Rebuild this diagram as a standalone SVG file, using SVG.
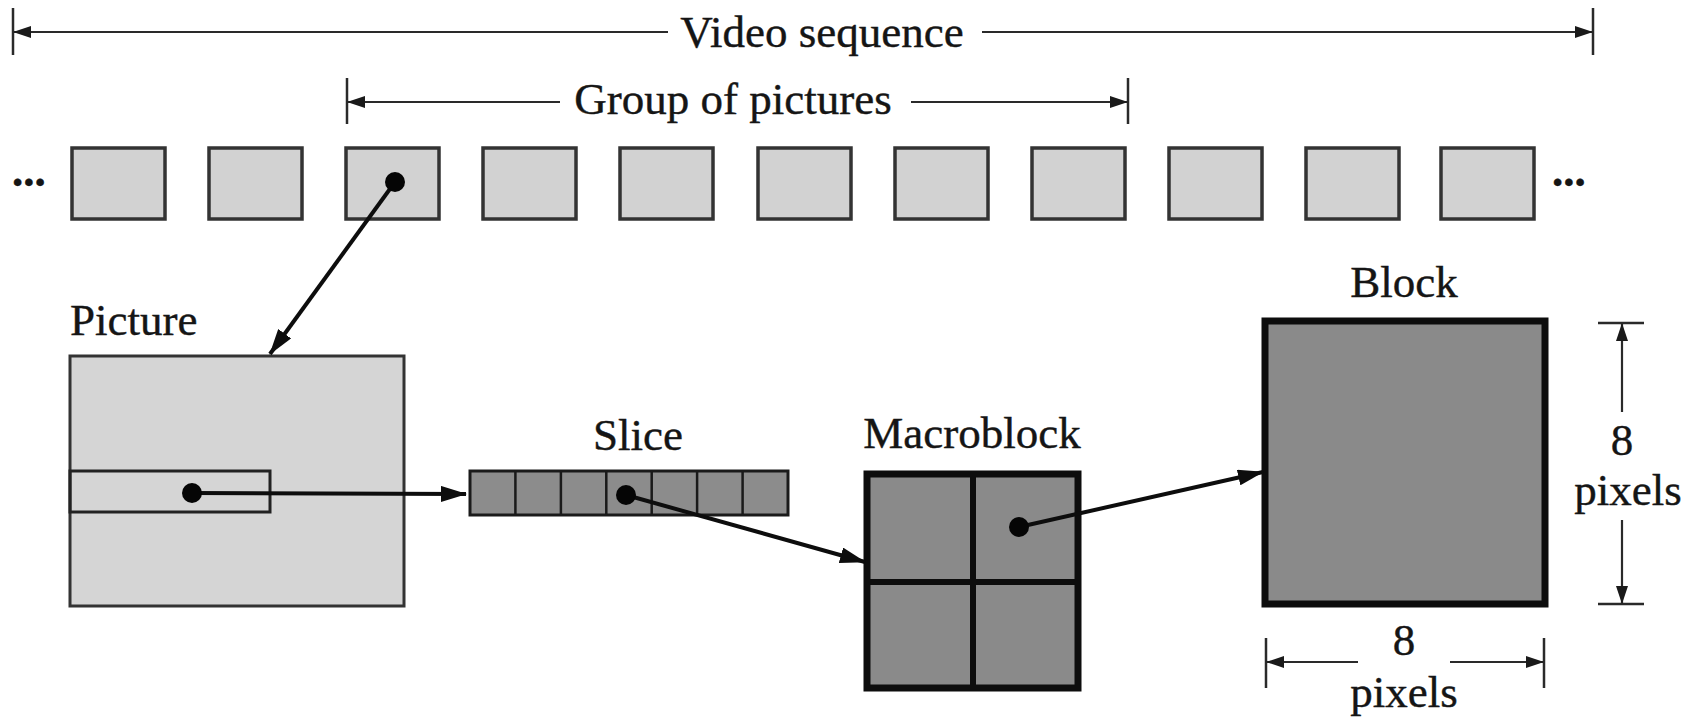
<svg xmlns="http://www.w3.org/2000/svg" width="1692" height="721" viewBox="0 0 1692 721">
  <defs>
    <style>
      .lbl { font-family: "Liberation Serif", "Times New Roman", serif; font-size: 45px; fill: #151515; stroke: #151515; stroke-width: 0.4; }
      .frame { fill: #d2d2d2; stroke: #333; stroke-width: 3.5; }
      .light { fill: #d5d5d5; stroke: #333; stroke-width: 3; }
      .dark { fill: #8c8c8c; stroke: #1a1a1a; stroke-width: 3; }
      .heavy { fill: #8a8a8a; stroke: #0d0d0d; stroke-width: 7; }
      .conn { stroke: #0d0d0d; stroke-width: 4; fill: none; }
      .dim { stroke: #2a2a2a; stroke-width: 2.2; fill: none; }
      .tick { stroke: #2a2a2a; stroke-width: 2.5; fill: none; }
      .dot { fill: #050505; }
    </style>
    <marker id="arr" markerUnits="userSpaceOnUse" markerWidth="26" markerHeight="16" viewBox="0 0 26 16" refX="25" refY="8" orient="auto">
      <path d="M0,0 L26,8 L0,16 Z" fill="#0d0d0d"/>
    </marker>
    <marker id="darr" markerUnits="userSpaceOnUse" markerWidth="18" markerHeight="12" viewBox="0 0 18 12" refX="17" refY="6" orient="auto">
      <path d="M0,0 L18,6 L0,12 Z" fill="#1a1a1a"/>
    </marker>
  </defs>
  <rect width="1692" height="721" fill="#ffffff"/>

  <g id="video-sequence">
    <line class="tick" x1="13" y1="8" x2="13" y2="55"/>
    <line class="tick" x1="1593" y1="8" x2="1593" y2="55"/>
    <line class="dim" x1="668" y1="32" x2="14" y2="32" marker-end="url(#darr)"/>
    <line class="dim" x1="982" y1="32" x2="1592" y2="32" marker-end="url(#darr)"/>
    <text class="lbl" x="822" y="47" text-anchor="middle">Video sequence</text>
  </g>

  <g id="group-of-pictures">
    <line class="tick" x1="347" y1="78" x2="347" y2="124"/>
    <line class="tick" x1="1128" y1="78" x2="1128" y2="124"/>
    <line class="dim" x1="560" y1="102" x2="348" y2="102" marker-end="url(#darr)"/>
    <line class="dim" x1="911" y1="102" x2="1127" y2="102" marker-end="url(#darr)"/>
    <text class="lbl" x="733" y="114" text-anchor="middle">Group of pictures</text>
  </g>

  <g id="frames">
    <text class="lbl" x="12" y="186" font-weight="bold">...</text>
    <rect class="frame" x="72" y="148" width="93" height="71"/>
    <rect class="frame" x="209" y="148" width="93" height="71"/>
    <rect class="frame" x="346" y="148" width="93" height="71"/>
    <rect class="frame" x="483" y="148" width="93" height="71"/>
    <rect class="frame" x="620" y="148" width="93" height="71"/>
    <rect class="frame" x="758" y="148" width="93" height="71"/>
    <rect class="frame" x="895" y="148" width="93" height="71"/>
    <rect class="frame" x="1032" y="148" width="93" height="71"/>
    <rect class="frame" x="1169" y="148" width="93" height="71"/>
    <rect class="frame" x="1306" y="148" width="93" height="71"/>
    <rect class="frame" x="1441" y="148" width="93" height="71"/>
    <text class="lbl" x="1552" y="186" font-weight="bold">...</text>
  </g>

  <g id="picture">
    <text class="lbl" x="70" y="335">Picture</text>
    <rect class="light" x="70" y="356" width="334" height="250"/>
    <rect x="70" y="471" width="200" height="41" fill="none" stroke="#222" stroke-width="3"/>
  </g>

  <g id="slice">
    <text class="lbl" x="638" y="450" text-anchor="middle">Slice</text>
    <rect class="dark" x="470" y="471" width="318" height="44"/>
    <path d="M515.4,471 V515 M560.9,471 V515 M606.3,471 V515 M651.7,471 V515 M697.1,471 V515 M742.6,471 V515" stroke="#1a1a1a" stroke-width="2.5"/>
  </g>

  <g id="macroblock">
    <text class="lbl" x="972" y="448" text-anchor="middle">Macroblock</text>
    <rect class="heavy" x="867" y="474" width="211" height="214"/>
    <path d="M973,474 V688 M867,582 H1078" stroke="#0d0d0d" stroke-width="6"/>
  </g>

  <g id="block">
    <text class="lbl" x="1404" y="297" text-anchor="middle">Block</text>
    <rect class="heavy" x="1265" y="321" width="280" height="283"/>
  </g>

  <g id="dim-vertical">
    <line class="tick" x1="1598" y1="323" x2="1644" y2="323"/>
    <line class="tick" x1="1598" y1="604" x2="1644" y2="604"/>
    <line class="dim" x1="1622" y1="412" x2="1622" y2="324" marker-end="url(#darr)"/>
    <line class="dim" x1="1622" y1="520" x2="1622" y2="603" marker-end="url(#darr)"/>
    <text class="lbl" x="1622" y="455" text-anchor="middle">8</text>
    <text class="lbl" x="1628" y="505" text-anchor="middle">pixels</text>
  </g>

  <g id="dim-horizontal">
    <line class="tick" x1="1266" y1="638" x2="1266" y2="688"/>
    <line class="tick" x1="1544" y1="638" x2="1544" y2="688"/>
    <line class="dim" x1="1358" y1="662" x2="1267" y2="662" marker-end="url(#darr)"/>
    <line class="dim" x1="1450" y1="662" x2="1543" y2="662" marker-end="url(#darr)"/>
    <text class="lbl" x="1404" y="655" text-anchor="middle">8</text>
    <text class="lbl" x="1404" y="707" text-anchor="middle">pixels</text>
  </g>

  <g id="connectors">
    <line class="conn" x1="395" y1="182" x2="270" y2="354" marker-end="url(#arr)"/>
    <line class="conn" x1="192" y1="493" x2="466" y2="494" marker-end="url(#arr)"/>
    <line class="conn" x1="626" y1="495" x2="865" y2="562" marker-end="url(#arr)"/>
    <line class="conn" x1="1019" y1="527" x2="1263" y2="472" marker-end="url(#arr)"/>
    <circle class="dot" cx="395" cy="182" r="10"/>
    <circle class="dot" cx="192" cy="493" r="10"/>
    <circle class="dot" cx="626" cy="495" r="10"/>
    <circle class="dot" cx="1019" cy="527" r="10"/>
  </g>
</svg>
